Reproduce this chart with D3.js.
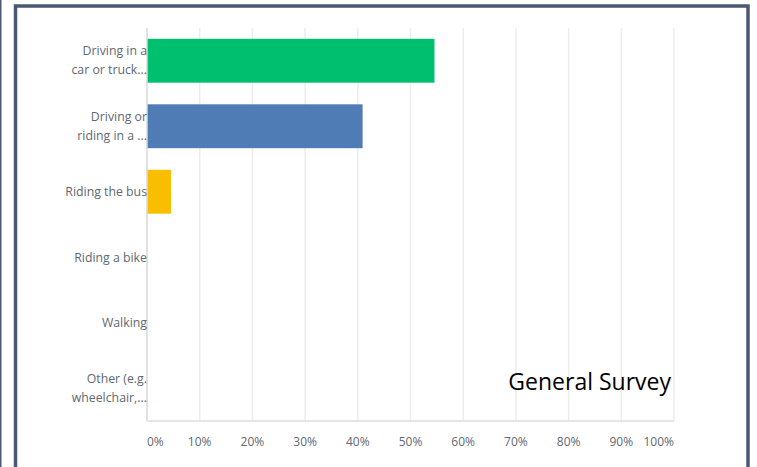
<!DOCTYPE html>
<html>
<head>
<meta charset="utf-8">
<script src="https://cdn.jsdelivr.net/npm/d3@7"></script>
<style>
  html, body { margin: 0; padding: 0; background: #fff; }
  svg { display: block; }
</style>
</head>
<body>
<div id="chart"></div>
<script>
// answer choices, split into the two lines shown on the chart
const categories = ['Driving in a car or truck', 'Driving or riding in a', 'Riding the bus', 'Riding a bike', 'Walking', 'Other (e.g. wheelchair']
const labelLines = [
  ['Driving in a', 'car or truck...'],
  ['Driving or', 'riding in a ...'],
  ['Riding the bus'],
  ['Riding a bike'],
  ['Walking'],
  ['Other (e.g.', 'wheelchair,...']
]
const percents = [54.55, 40.91, 4.55, 0, 0, 0]
const barColors = ['#00bf6f', '#507cb6', '#f9be00', '#6bc8cd', '#ff8b4f', '#7d5ba6']
const ticks = [0, 10, 20, 30, 40, 50, 60, 70, 80, 90, 100]
const title = 'General Survey'

const width = 757,
      height = 467,
      plotLeft = 147,
      plotRight = 674,
      plotTop = 28,
      plotBottom = 421

const svg = d3.select('#chart').append('svg')
  .attr('width', width)
  .attr('height', height)

// slide frame
svg.append('rect')
  .attr('x', 0).attr('y', 0).attr('width', 1.5).attr('height', height)
  .attr('fill', '#4a5873')
svg.append('path')
  .attr('d', `M15.5,${height + 5}V6H748V${height + 5}`)
  .attr('fill', 'none')
  .attr('stroke', '#4a5873')
  .attr('stroke-width', 3.5)

const x = d3.scaleLinear().domain([0, 100]).range([plotLeft, plotRight])
const y = d3.scaleBand().domain(categories).range([plotTop, plotBottom]).paddingInner(0.33).paddingOuter(0.165)

// gridlines
svg.append('g')
  .selectAll('line')
  .data(ticks.slice(1)).enter()
  .append('line')
  .attr('x1', d => x(d)).attr('x2', d => x(d))
  .attr('y1', plotTop).attr('y2', plotBottom)
  .attr('stroke', '#ededed')
  .attr('stroke-width', 1.5)

// bars
svg.append('g')
  .selectAll('rect')
  .data(percents).enter()
  .append('rect')
  .attr('x', x(0))
  .attr('y', (d, i) => y(categories[i]))
  .attr('width', d => x(d) - x(0))
  .attr('height', y.bandwidth())
  .attr('fill', (d, i) => barColors[i])

// baseline and bottom line
svg.append('line')
  .attr('x1', x(0)).attr('x2', x(0)).attr('y1', plotTop).attr('y2', plotBottom)
  .attr('stroke', '#d9d9d9').attr('stroke-width', 1.5)
svg.append('line')
  .attr('x1', x(0)).attr('x2', x(100)).attr('y1', plotBottom).attr('y2', plotBottom)
  .attr('stroke', '#dcdcdc').attr('stroke-width', 1.5)

// category labels
const labels = svg.append('g')
  .attr('font-family', 'Open Sans, sans-serif')
  .attr('font-size', 12.3)
  .attr('fill', '#5f6873')
  .attr('text-anchor', 'end')
labels.selectAll('text')
  .data(labelLines).enter()
  .append('text')
  .attr('x', 147)
  .attr('y', (d, i) => y(categories[i]) + y.bandwidth() / 2)
  .each(function (lines) {
    const t = d3.select(this)
    lines.forEach((line, j) => {
      t.append('tspan')
        .attr('x', 147)
        .attr('dy', j === 0 ? (lines.length === 1 ? '0.35em' : '-0.45em') : '1.55em')
        .text(line)
    })
  })

// x axis labels
svg.append('g')
  .attr('font-family', 'Open Sans, sans-serif')
  .attr('font-size', 12)
  .attr('fill', '#5f6873')
  .selectAll('text')
  .data(ticks).enter()
  .append('text')
  .attr('x', d => x(d))
  .attr('y', 446)
  .attr('text-anchor', (d, i) => i === 0 ? 'start' : (i === ticks.length - 1 ? 'end' : 'middle'))
  .text(d => d + '%')

// title box text
svg.append('text')
  .attr('x', 671)
  .attr('y', 390)
  .attr('text-anchor', 'end')
  .attr('font-family', 'Open Sans, sans-serif')
  .attr('font-size', 23)
  .attr('fill', '#000')
  .text(title)
</script>
</body>
</html>
